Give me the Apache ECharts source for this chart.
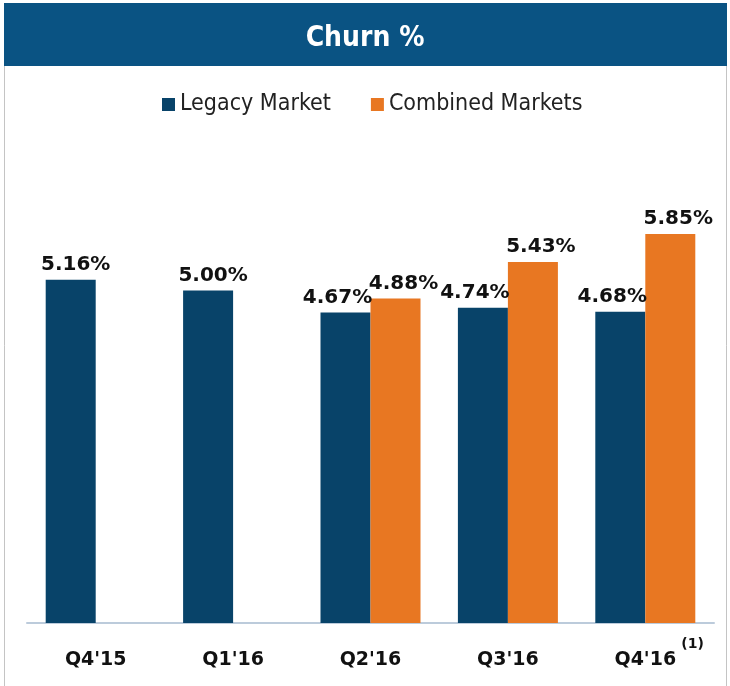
<!DOCTYPE html>
<html>
<head>
<meta charset="utf-8">
<script src="https://cdn.jsdelivr.net/npm/echarts@6/dist/echarts.min.js"></script>
<style>
html,body{margin:0;padding:0;background:#fff;}
#c{width:730px;height:686px;}
</style>
</head>
<body>
<div id="c"></div>
<script>
var categories = ["Q4'15", "Q1'16", "Q2'16", "Q3'16", "Q4'16"];
var footnotes = ["", "", "", "", "(1)"];
var legacy = [5.16, 5.00, 4.67, 4.74, 4.68];
var combined = [null, null, 4.88, 5.43, 5.85];
var seriesNames = ["Legacy Market", "Combined Markets"];

var chart = echarts.init(document.getElementById('c'));
var labelStyle = {
  show: true, position: 'top', distance: 5,
  fontFamily: 'DejaVu Sans', fontWeight: 'bold', fontSize: 20, color: '#111',
  formatter: function (p) { return p.value.toFixed(2) + '%'; }
};
var legacyData = legacy.map(function (v, i) {
  return { value: v, label: { offset: [combined[i] != null ? -8 : 5, 0] } };
});
var combinedData = combined.map(function (v) {
  return v == null ? null : { value: v, label: { offset: [8, 0] } };
});

chart.setOption({
  animation: false,
  graphic: [
    { type: 'rect', shape: { x: 4.5, y: 3.5, width: 722, height: 690 }, style: { fill: 'none', stroke: '#c4c4c4', lineWidth: 1 }, z: 0 },
    { type: 'rect', shape: { x: 4, y: 3, width: 723, height: 63 }, style: { fill: '#0a5383' }, z: 1 }
  ],
  title: {
    text: 'Churn %', left: 'center', top: 20,
    textStyle: { color: '#fff', fontFamily: 'DejaVu Sans Condensed', fontWeight: 'bold', fontSize: 28 },
    z: 5
  },
  legend: {
    data: seriesNames, left: 157, top: 88,
    itemWidth: 13, itemHeight: 13, itemGap: 40, icon: 'rect',
    textStyle: { fontFamily: 'DejaVu Sans Condensed', fontSize: 23, color: '#222' }
  },
  grid: { left: 27, right: 16, top: 91, bottom: 63, containLabel: false },
  xAxis: {
    type: 'category', data: categories,
    axisTick: { show: false },
    axisLine: { lineStyle: { color: '#bccbdb', width: 2 } },
    axisLabel: {
      margin: 14, interval: 0,
      formatter: function (v, i) {
        return footnotes[i] ? '{g|}{a|' + v + '}{s|' + footnotes[i] + '}' : '{a|' + v + '}';
      },
      rich: {
        g: { width: 28, lineHeight: 16 },
        a: { fontFamily: 'DejaVu Sans', fontWeight: 'bold', fontSize: 19, color: '#111', lineHeight: 46, verticalAlign: 'middle' },
        s: { fontFamily: 'DejaVu Sans', fontWeight: 'bold', fontSize: 14, color: '#111', lineHeight: 16, verticalAlign: 'top', width: 23, padding: [0, 0, 0, 5] }
      }
    }
  },
  yAxis: { type: 'value', min: 0, max: 8, show: false, splitLine: { show: false } },
  series: [
    { name: seriesNames[0], type: 'bar', data: legacyData, barWidth: 50, barGap: '0%',
      itemStyle: { color: '#084369' }, label: labelStyle },
    { name: seriesNames[1], type: 'bar', data: combinedData, barWidth: 50, barGap: '0%',
      itemStyle: { color: '#e87722' }, label: labelStyle }
  ]
});
</script>
</body>
</html>
